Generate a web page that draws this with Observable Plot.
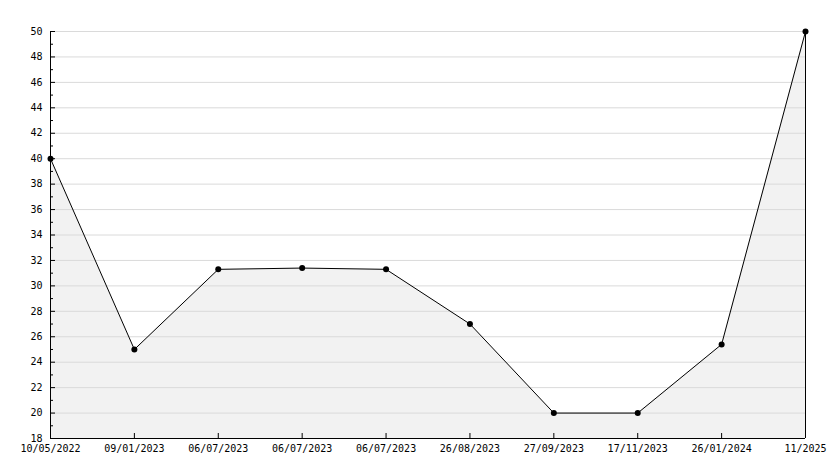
<!DOCTYPE html>
<html><head><meta charset="utf-8">
<script src="https://cdn.jsdelivr.net/npm/d3@7"></script>
<script src="https://cdn.jsdelivr.net/npm/@observablehq/plot@0.6"></script>
<style>body{margin:0;background:#fff}</style>
</head><body><div id="chart"></div>
<script>
const labels = ["10/05/2022","09/01/2023","06/07/2023","06/07/2023","06/07/2023","26/08/2023","27/09/2023","17/11/2023","26/01/2024","11/2025"];
const values = [40, 25, 31.3, 31.4, 31.3, 27, 20, 20, 25.4, 50];
const yMajor = [18,20,22,24,26,28,30,32,34,36,38,40,42,44,46,48,50];
const yMinor = [19,21,23,25,27,29,31,33,35,37,39,41,43,45,47,49];
const yMin = 18, yMax = 50;

const data = labels.map((label, i) => ({i, label, value: values[i]}));
const idx = data.map(d => d.i);

const chart = Plot.plot({
  width: 834, height: 468,
  marginLeft: 50, marginRight: 29, marginTop: 31, marginBottom: 30,
  style: {fontFamily: "DejaVu Sans Mono", fontSize: "10px", color: "#000", background: "#fff", overflow: "visible"},
  x: {type: "linear", domain: [idx[0], idx[idx.length - 1]], inset: 0, label: null},
  y: {domain: [yMin, yMax], inset: 0, label: null},
  marks: [
    Plot.areaY(data, {x: "i", y1: yMin, y2: "value", fill: "#f2f2f2"}),
    Plot.gridY(yMajor, {stroke: "#dadada", strokeOpacity: 1}),
    Plot.ruleX([idx[idx.length - 1]], {y1: yMin, y2: yMax, stroke: "#000"}),
    Plot.ruleX([idx[0]], {stroke: "#000"}),
    Plot.ruleY([yMin], {stroke: "#000"}),
    Plot.line(data, {x: "i", y: "value", stroke: "#000", strokeWidth: 1}),
    Plot.dot(data, {x: "i", y: "value", r: 3, fill: "#000", stroke: null}),
    Plot.axisY(yMajor, {tickSize: 0, tickPadding: 8, tickFormat: d => String(d), label: null}),
    Plot.axisY(yMajor, {tickSize: 5, dx: 5, text: null, label: null}),
    Plot.axisY(yMinor, {tickSize: 3, dx: 3, text: null, label: null}),
    Plot.axisX(idx, {tickSize: 0, tickPadding: 6, tickFormat: i => labels[i], label: null}),
    Plot.axisX(idx, {tickSize: 5, dy: -5, text: null, label: null})
  ]
});
document.getElementById("chart").append(chart);
</script>
</body></html>
